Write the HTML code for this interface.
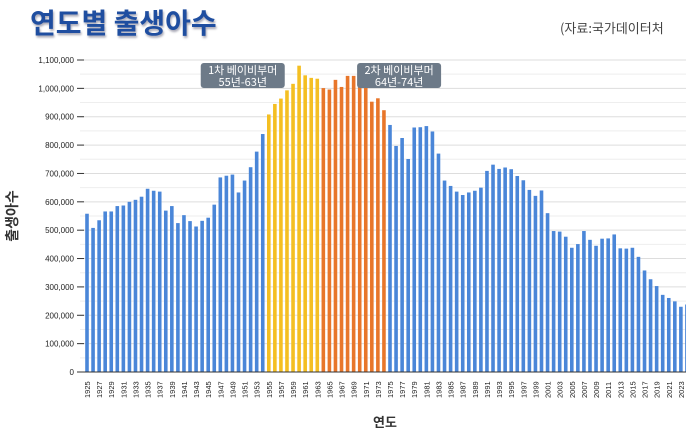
<!DOCTYPE html>
<html><head><meta charset="utf-8"><style>
body{margin:0;background:#fff;width:686px;height:440px;overflow:hidden;font-family:"Liberation Sans","Noto Sans CJK KR",sans-serif;}
svg{display:block}
</style></head><body>
<svg id="c" width="686" height="440">
<text x="30" y="33" font-size="28" font-weight="bold" fill="#1f4ea0" font-family="'Noto Sans CJK KR',sans-serif" style="text-shadow:1px 2px 2px rgba(0,0,40,0.35)">연도별 출생아수</text>
<text x="560" y="33" font-size="13" fill="#444" font-family="'Noto Sans CJK KR',sans-serif">(자료:국가데이터처</text>
<text transform="translate(17,216) rotate(-90)" text-anchor="middle" font-size="14" font-weight="bold" fill="#333" font-family="'Noto Sans CJK KR',sans-serif">출생아수</text>
<text x="385" y="427" text-anchor="middle" font-size="13" font-weight="bold" fill="#333" font-family="'Noto Sans CJK KR',sans-serif">연도</text>
<g id="grid"></g><g id="bars"></g><g id="ticks"></g><g id="ann"></g>
</svg>
<script>
const years = [];
for (let y = 1925; y <= 2024; y++) years.push(y);
const births = [558,508,535,566,566,585,587,600,607,618,646,639,636,569,585,525,553,532,513,533,544,590,686,692,696,633,675,722,777,839,
908,945,964,993,1016,1080,1046,1037,1034,
1001,996,1030,1005,1044,1044,1007,1025,953,965,923,
871,797,825,751,862,863,867,848,770,675,656,636,624,633,639,650,709,731,716,721,715,691,676,642,621,640,560,497,495,477,438,451,497,466,445,470,471,485,436,435,438,406,358,327,303,272,261,249,230,238];
const yTicks = [0,100,200,300,400,500,600,700,800,900,1000,1100];
const yTickLabels = ["0","100,000","200,000","300,000","400,000","500,000","600,000","700,000","800,000","900,000","1,000,000","1,100,000"];
const boom1 = [1955,1963], boom2 = [1964,1974];
const annotations = [["1차 베이비부머","55년-63년",1950.7],["2차 베이비부머","64년-74년",1976.5]];

const NS="http://www.w3.org/2000/svg";
const y0=372, y1=60, yMax=1100;
const yS=v=>y0-(v/yMax)*(y0-y1);
const xS=yr=>87+(yr-1925)*6.06;
function mk(tag,attrs,parent){const e=document.createElementNS(NS,tag);for(const k in attrs)e.setAttribute(k,attrs[k]);parent.appendChild(e);return e;}
const grid=document.getElementById('grid'),bars=document.getElementById('bars'),ticks=document.getElementById('ticks'),ann=document.getElementById('ann');
for(let v=0;v<=yMax;v+=50){
  const l=mk('line',{x1:80,x2:686,y1:yS(v),y2:yS(v),stroke:v%100===0?'#ddd':'#eee','stroke-width':1},grid);
  
  
}
yTicks.forEach((v,i)=>{
  const t=mk('text',{x:74,y:yS(v)+3,'text-anchor':'end','font-size':8,fill:'#222'},ticks);
  t.textContent=yTickLabels[i];
  
  
  const m=mk('line',{x1:77,x2:84,y1:yS(v),y2:yS(v),stroke:'#333','stroke-width':1},ticks);
  
  
});
years.forEach((yr,i)=>{
  let c='#4a86d8';
  if(yr>=boom1[0]&&yr<=boom1[1])c='#f4bf22';
  else if(yr>=boom2[0]&&yr<=boom2[1])c='#e8762a';
  const r=mk('rect',{x:xS(yr)-1.8,y:yS(births[i]),width:3.6,height:y0-yS(births[i]),fill:c},bars);
  
  
  if((yr-1925)%2===0){
    const t=mk('text',{transform:`translate(${xS(yr)+3},398) rotate(-90)`,'font-size':7.5,fill:'#222'},ticks);
    t.textContent=yr;
    
    
  }
});
const ax=mk('line',{x1:84,x2:686,y1:y0,y2:y0,stroke:'#333','stroke-width':1},ticks);


annotations.forEach(a=>{
  const cx=xS(a[2]);
  const g=mk('g',{},ann);
  
  
  mk('rect',{x:cx-42,y:63,width:84,height:25,rx:3,fill:'#6d7a88'},g);
  const t1=mk('text',{x:cx,y:74,'text-anchor':'middle','font-size':11,fill:'#fff','font-family':"'Noto Sans CJK KR',sans-serif"},g);t1.textContent=a[0];
  const t2=mk('text',{x:cx,y:86,'text-anchor':'middle','font-size':11,fill:'#fff','font-family':"'Noto Sans CJK KR',sans-serif"},g);t2.textContent=a[1];
});
</script>
</body></html>
